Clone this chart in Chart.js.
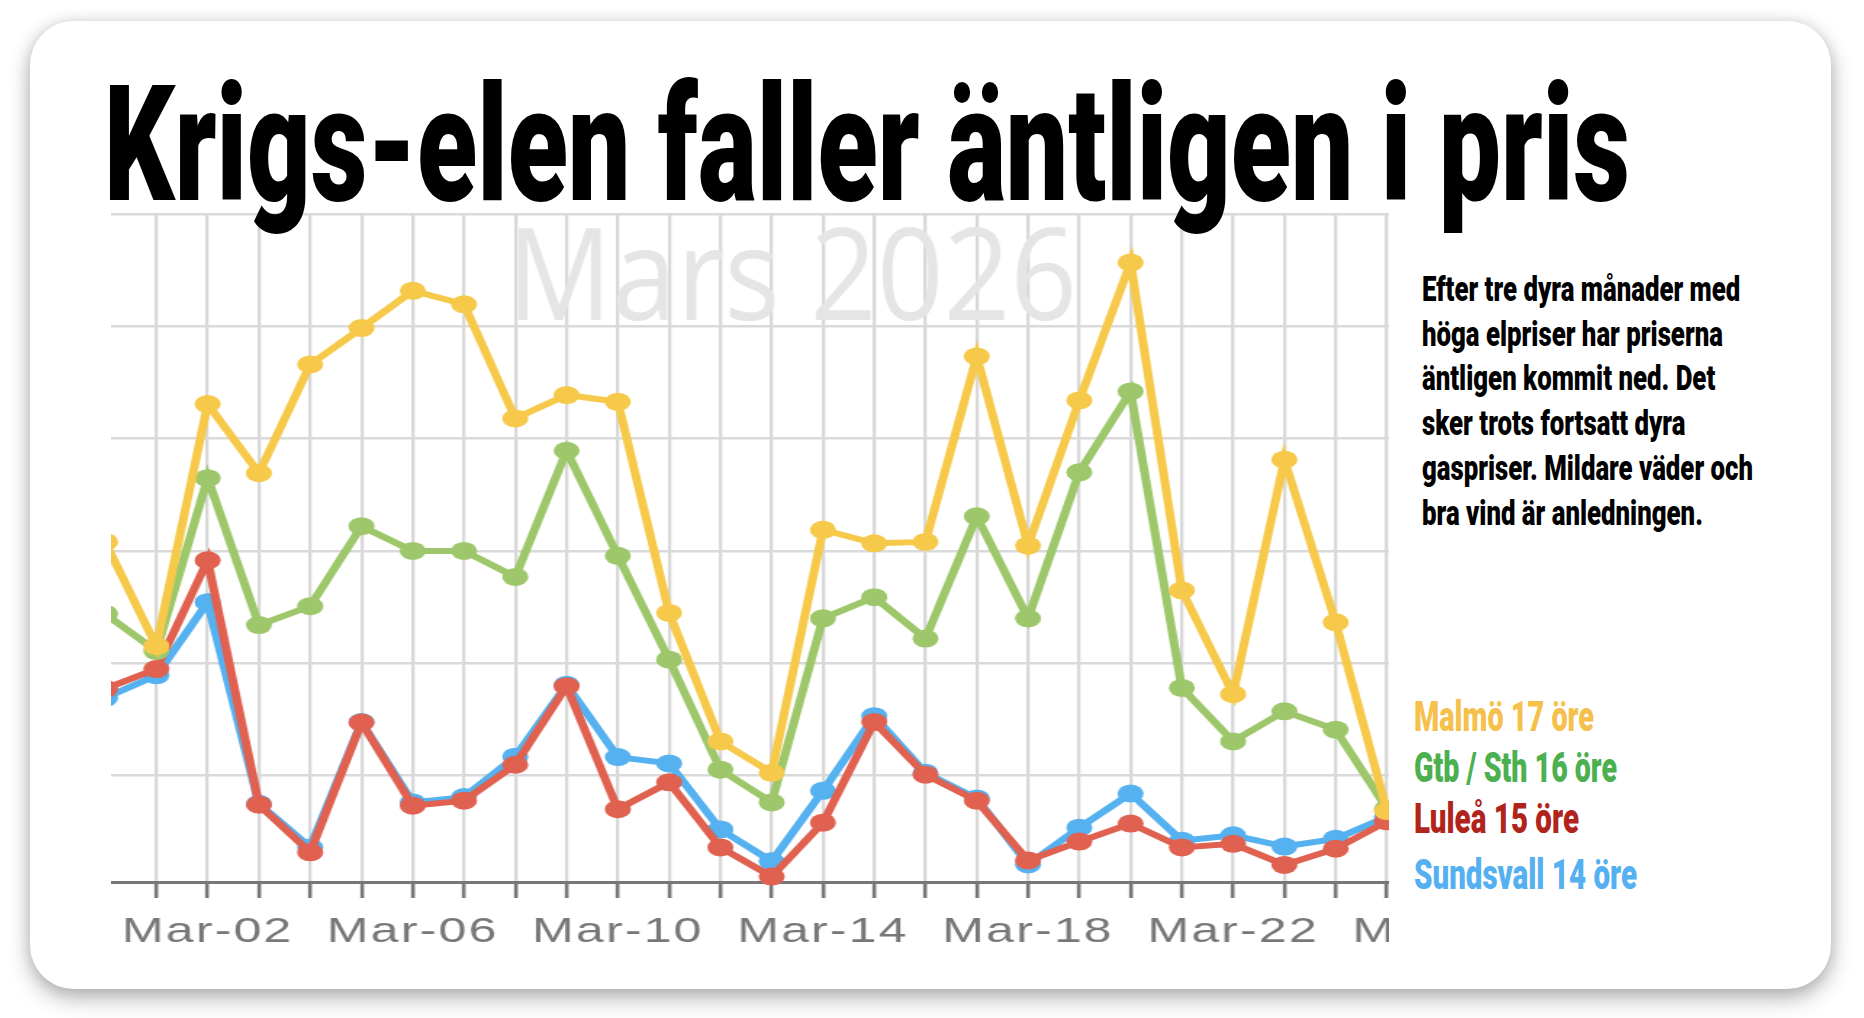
<!DOCTYPE html>
<html lang="sv">
<head>
<meta charset="utf-8">
<title>Krigs-elen faller äntligen i pris</title>
<script src="https://cdn.jsdelivr.net/npm/chart.js@4.4.1/dist/chart.umd.min.js"></script>
<style>
html,body{margin:0;padding:0;background:#fff;}
body{width:1864px;height:1018px;position:relative;overflow:hidden;}
#card{position:absolute;left:30px;top:21px;width:1801px;height:968px;background:#fff;border-radius:44px;
  box-shadow:0 9px 22px rgba(0,0,0,0.30),0 0 14px rgba(0,0,0,0.10);}
#chartBox{position:absolute;left:111px;top:202px;width:881px;height:760px;transform-origin:0 0;}
.cond{position:absolute;white-space:nowrap;font-family:Roboto,"Liberation Sans",sans-serif;font-weight:900;transform-origin:0 0;}
#title{left:104px;top:65px;font-size:161px;line-height:161px;color:#000;}
#note{left:1422px;top:268px;font-size:35px;line-height:44.7px;color:#000;}
.leg{font-size:42px;line-height:42px;left:1414px;}
</style>
</head>
<body>
<div id="card"></div>
<div id="chartBox"><canvas id="chart"></canvas></div>
<div id="title" class="cond">Krigs-elen faller äntligen i pris</div>
<div id="note" class="cond">Efter tre dyra månader med<br>höga elpriser har priserna<br>äntligen kommit ned. Det<br>sker trots fortsatt dyra<br>gaspriser. Mildare väder och<br>bra vind är anledningen.</div>
<div id="leg0" class="cond leg" style="top:696px;color:#f6c04c">Malmö 17 öre</div>
<div id="leg1" class="cond leg" style="top:747px;color:#4caf50">Gtb / Sth 16 öre</div>
<div id="leg2" class="cond leg" style="top:798px;color:#b0241c">Luleå 15 öre</div>
<div id="leg3" class="cond leg" style="top:854px;color:#54b0f0">Sundsvall 14 öre</div>
<script>
// ---- data (öre/kWh), one value per day Feb-28 .. Mar-25 ----
const days = ['Feb-28','Mar-01','Mar-02','Mar-03','Mar-04','Mar-05','Mar-06','Mar-07','Mar-08','Mar-09',
  'Mar-10','Mar-11','Mar-12','Mar-13','Mar-14','Mar-15','Mar-16','Mar-17','Mar-18','Mar-19','Mar-20',
  'Mar-21','Mar-22','Mar-23','Mar-24','Mar-25','Mar-26'];
const malmo     = [77, 53.8, 107.7, 92.3, 116.5, 124.6, 132.9, 129.9, 104.5, 109.7, 108.2, 61.2, 32.6, 25.6, 79.7, 76.7, 77.0, 118.3, 76.2, 108.5, 139.2, 66.2, 43.1, 95.3, 59.1, 17.1];
const gtbSth    = [61, 52.7, 91.2, 58.5, 62.7, 80.5, 75.0, 75.0, 69.2, 97.3, 73.9, 50.8, 26.3, 19.0, 60.0, 64.7, 55.5, 82.7, 60.0, 92.5, 110.5, 44.5, 32.6, 39.3, 35.2, 17.6];
const lulea     = [44.3, 48.7, 72.9, 18.5, 7.9, 36.8, 18.3, 19.4, 27.4, 44.9, 17.5, 23.5, 9.0, 2.5, 14.5, 36.9, 25.2, 19.4, 6.1, 10.3, 14.3, 9.0, 9.8, 5.1, 8.7, 14.8];
const sundsvall = [42.3, 47.3, 63.6, 18.7, 9.0, 36.9, 19.0, 20.2, 29.2, 45.2, 29.1, 27.7, 13.0, 5.9, 21.6, 38.2, 25.6, 19.9, 5.2, 13.4, 21.0, 10.5, 11.7, 9.2, 10.9, 15.8];
const tickLabels = ['Mar-02','Mar-06','Mar-10','Mar-14','Mar-18','Mar-22','Mar-26'];
const yTicks = [25, 50, 75, 100, 125, 150];
const subtitle = 'Mars 2026';

// visible window of the day axis and value axis
const xMin = 0.115, xMax = 25.04, yMin = 1.3, yMax = 150;
// the reference chart is stretched horizontally
const stretch = 1278 / 881;
document.getElementById('chartBox').style.transform = 'scaleX(' + stretch + ')';

const toPoints = arr => arr.map((v, i) => ({x: i, y: v}));
const series = [
  {label: 'Malmö', data: malmo, color: '#f6c94a'},
  {label: 'Gtb / Sth', data: gtbSth, color: '#9dc76a'},
  {label: 'Luleå', data: lulea, color: '#e06150'},
  {label: 'Sundsvall', data: sundsvall, color: '#55b1ef'}
];

const watermark = {
  id: 'watermark',
  beforeDraw(chart) { chart.ctx.letterSpacing = '1.5px'; },
  beforeDatasetsDraw(chart) {
    const {ctx, chartArea} = chart;
    ctx.save();
    ctx.letterSpacing = '0px';
    ctx.font = '400 129px "Open Sans", sans-serif';
    ctx.fillStyle = '#e5e5e5';
    ctx.textBaseline = 'alphabetic';
    ctx.textAlign = 'left';
    const w = ctx.measureText(subtitle).width;
    ctx.translate(chartArea.left + 273, chartArea.top + 106);
    ctx.scale((570 / stretch) / w, 1);
    ctx.fillText(subtitle, 0, 0);
    ctx.restore();
  }
};

new Chart(document.getElementById('chart'), {
  type: 'line',
  data: {
    datasets: series.map(s => ({
      label: s.label,
      data: toPoints(s.data),
      borderColor: s.color,
      backgroundColor: s.color,
      pointBackgroundColor: s.color,
      pointBorderWidth: 0,
      pointRadius: 9,
      borderWidth: 6,
      tension: 0,
      clip: {left: 0, right: 0, top: 30, bottom: 30}
    }))
  },
  options: {
    responsive: true,
    maintainAspectRatio: false,
    animation: false,
    layout: {autoPadding: false, padding: {top: 12, left: 0, right: 0, bottom: 0}},
    plugins: {legend: {display: false}, tooltip: {enabled: false}, title: {display: false}},
    scales: {
      x: {
        type: 'linear',
        min: xMin, max: xMax,
        afterBuildTicks: s => { s.ticks = days.map((d, i) => i).filter(i => i >= 1).map(v => ({value: v})); },
        afterFit: s => { s.paddingLeft = 0; s.paddingRight = 0; s.height = 80; },
        ticks: {
          autoSkip: false, maxRotation: 0, minRotation: 0, padding: 14,
          color: '#777777',
          font: {family: '"Liberation Sans", Arial, sans-serif', size: 34.5},
          callback: v => (tickLabels.includes(days[v]) ? days[v] : '')
        },
        grid: {color: '#d8d8d8', lineWidth: 2.3, drawTicks: true, tickLength: 16, tickColor: '#777777', tickWidth: 2.6},
        border: {display: true, color: '#777777', width: 3}
      },
      y: {
        min: yMin, max: yMax,
        afterBuildTicks: s => { s.ticks = yTicks.map(v => ({value: v})); },
        afterFit: s => { s.width = 0; },
        ticks: {display: false},
        grid: {color: '#dadada', lineWidth: 2.5, drawTicks: false},
        border: {display: false}
      }
    }
  },
  plugins: [watermark]
});

// condense the headline-style texts to their measured widths
function fit(id, target) {
  const el = document.getElementById(id);
  const w = el.getBoundingClientRect().width;
  el.style.transform = 'scaleX(' + (target / w) + ')';
}
fit('title', 1526);
fit('note', 331);
fit('leg0', 180);
fit('leg1', 203);
fit('leg2', 165);
fit('leg3', 223);
</script>
</body>
</html>
